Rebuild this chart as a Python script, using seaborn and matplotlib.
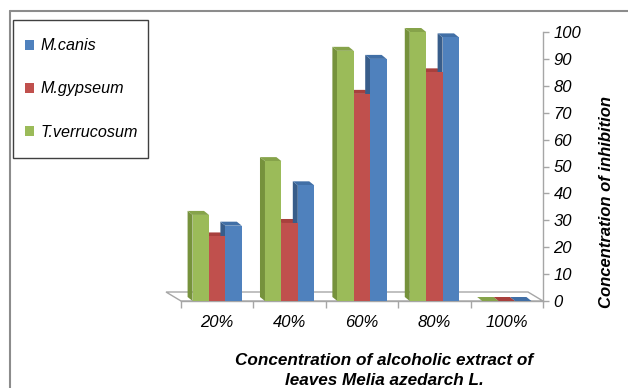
import numpy as np
import pandas as pd
import matplotlib
matplotlib.use("Agg")
import matplotlib.pyplot as plt
from matplotlib.patches import Polygon, Rectangle, Patch
from matplotlib.lines import Line2D
import seaborn as sns

# Inhibition values per extract concentration
concentrations = ["20%", "40%", "60%", "80%", "100%"]
t_verrucosum = [32, 52, 93, 100, 0]
m_gypseum = [24, 29, 77, 85, 0]
m_canis = [28, 43, 90, 98, 0]
species = ["T.verrucosum", "M.gypseum", "M.canis"]
y_ticks = [0, 10, 20, 30, 40, 50, 60, 70, 80, 90, 100]

front_colors = {"T.verrucosum": "#9BBB59", "M.gypseum": "#C0504D", "M.canis": "#4F81BD"}
side_colors = {"T.verrucosum": "#76923C", "M.gypseum": "#943634", "M.canis": "#385D8A"}
top_colors = {"T.verrucosum": "#86A34A", "M.gypseum": "#A8403D", "M.canis": "#416FA6"}

df = pd.DataFrame({
    "conc": concentrations * 3,
    "value": t_verrucosum + m_gypseum + m_canis,
    "species": [s for s in species for _ in concentrations],
})

sns.set_theme(style="white")
plt.rcParams["font.family"] = ["Liberation Sans", "DejaVu Sans"]
plt.rcParams["text.color"] = "black"
plt.rcParams["axes.labelcolor"] = "black"

W, H = 628, 388
fig = plt.figure(figsize=(W / 100, H / 100), dpi=100)
ax = fig.add_axes([181 / W, 1 - 301 / H, 362 / W, 269 / H])

sns.barplot(data=df, x="conc", y="value", hue="species", hue_order=species,
            order=concentrations, palette=front_colors, saturation=1,
            width=0.68, errorbar=None, legend=False, ax=ax)

ax.set_xlim(-0.5, len(concentrations) - 0.5)
ax.set_ylim(0, 100)

bars = [p for p in ax.patches if isinstance(p, Rectangle)]


def px_offset(points, dx, dy):
    disp = ax.transData.transform(points)
    disp = disp + np.array([dx, dy])
    return ax.transData.inverted().transform(disp)


# Floor slab behind the bars
floor_front = np.array([[-0.5, 0], [len(concentrations) - 0.5, 0]])
floor_back = px_offset(floor_front, -15, 9)
ax.add_patch(Polygon(np.vstack([floor_front, floor_back[::-1]]), closed=True,
                     facecolor="white", edgecolor="#A6A6A6", lw=1.0,
                     zorder=1, clip_on=False))

# Depth faces (left side + top) for each bar
ddx, ddy = -5, 4
for b in bars:
    sp = next(s for s in species if matplotlib.colors.same_color(b.get_facecolor(), front_colors[s]))
    x0, w, h = b.get_x(), b.get_width(), b.get_height()
    b.set_zorder(4)
    b.set_clip_on(False)
    b.set_edgecolor("none")
    side = np.array([[x0, 0], [x0, h]])
    side_b = px_offset(side, ddx, ddy)
    ax.add_patch(Polygon(np.vstack([side, side_b[::-1]]), closed=True,
                         facecolor=side_colors[sp], edgecolor="none",
                         zorder=2 + x0 * 0.01, clip_on=False))
    top = np.array([[x0, h], [x0 + w, h]])
    top_b = px_offset(top, ddx, ddy)
    ax.add_patch(Polygon(np.vstack([top, top_b[::-1]]), closed=True,
                         facecolor=top_colors[sp], edgecolor="none",
                         zorder=2 + x0 * 0.01 + 0.001, clip_on=False))

# Axes styling
for s in ["top", "left"]:
    ax.spines[s].set_visible(False)
for s in ["bottom", "right"]:
    ax.spines[s].set_color("#A6A6A6")
    ax.spines[s].set_linewidth(1.0)
    ax.spines[s].set_zorder(1.5)

ax.yaxis.tick_right()
ax.yaxis.set_label_position("right")
ax.set_yticks(y_ticks)
ax.set_yticklabels([str(v) for v in y_ticks], fontsize=12, style="italic")
ax.tick_params(axis="y", which="major", direction="out", length=4, width=1,
               color="#A6A6A6", labelcolor="black", pad=3.5, right=True,
               left=False, labelleft=False, labelright=True)

ax.set_xticks(np.arange(-0.5, len(concentrations)), labels=[""] * (len(concentrations) + 1))
ax.set_xticks(np.arange(len(concentrations)), labels=concentrations, minor=True)
ax.tick_params(axis="x", which="major", direction="out", length=5, width=1,
               color="#A6A6A6", bottom=True)
ax.tick_params(axis="x", which="minor", length=0, pad=10, labelsize=12,
               labelcolor="black")
for t in ax.get_xticklabels(minor=True):
    t.set_fontstyle("italic")

ax.set_xlabel("Concentration of alcoholic extract of\nleaves Melia azedarch L.",
              fontsize=12.3, fontweight="bold", fontstyle="italic", linespacing=1.4)
ax.xaxis.set_label_coords(0.561, -0.257)
ax.xaxis.label.set_va("center")

ax.set_ylabel("Concentration of inhibition", fontsize=12, fontweight="bold",
              fontstyle="italic")
ax.yaxis.set_label_coords(1.175, 0.368)
ax.yaxis.label.set_va("center")
ax.yaxis.label.set_ha("center")
ax.yaxis.label.set_rotation(90)

# Legend
fig.patches.append(Rectangle((13 / W, 1 - 158 / H), 135 / W, 138 / H,
                             transform=fig.transFigure, facecolor="white",
                             edgecolor="#404040", lw=1.0, zorder=5))
handles = [Patch(facecolor=front_colors[s], edgecolor="none") for s in species[::-1]]
leg = fig.legend(handles, species[::-1], loc="center left",
                 bbox_to_anchor=(25 / W, 1 - 89 / H), frameon=False,
                 borderpad=0, borderaxespad=0, labelspacing=1.75,
                 handlelength=0.56, handleheight=0.56, handletextpad=0.4,
                 prop={"size": 11.6, "style": "italic"})
leg.set_zorder(6)

# Chart frame
fig.add_artist(Line2D([9.5 / W, 1], [1 - 10.5 / H, 1 - 10.5 / H],
                      transform=fig.transFigure, color="#8C8C8C", lw=1.5))
fig.add_artist(Line2D([9.5 / W, 9.5 / W], [0, 1 - 10.5 / H],
                      transform=fig.transFigure, color="#8C8C8C", lw=1.5))

fig.savefig("out.png", dpi=100)
